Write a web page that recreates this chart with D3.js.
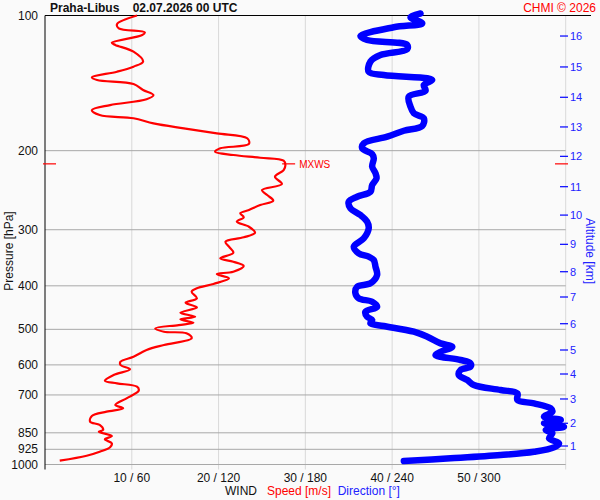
<!DOCTYPE html>
<html>
<head>
<meta charset="utf-8">
<script src="https://cdn.jsdelivr.net/npm/d3@7"></script>
<style>
  body { margin: 0; background: #fafafa; }
  svg { display: block; font-family: "Liberation Sans", Arial, sans-serif; }
</style>
</head>
<body>
<svg id="viz" width="600" height="500"></svg>
<script>
// pressure labels on the left
var pressTicks = [100, 200, 300, 400, 500, 600, 700, 850, 925, 1000];
// speed gridlines (direction = speed * 6)
var windTicks = [10, 20, 30, 40, 50];
// altitude ticks on the right, km and the pressure they sit at
var altKm = [1, 2, 3, 4, 5, 6, 7, 8, 9, 10, 11, 12, 13, 14, 15, 16];
var altP = [909.5, 809.4, 714.6, 628.7, 555.9, 485.8, 423.6, 372.1, 323.3, 278.3, 240.6, 205.9, 177.1, 152.1, 130.2, 111.1];

// wind speed profile [m/s]
var speedP = [100, 104.5, 106.8, 109.0, 110.5, 115.0, 116.3, 120.4, 126.7, 130.0, 133.4, 137.3, 139.2, 142.1, 146.5, 150.4,
  153.7, 158.3, 162.4, 166.6, 169.4, 173.9, 178.4, 183.0, 187.7, 193.2, 197.6, 201.1, 204.5, 207.4, 210.6, 215.3,
  220.9, 228.6, 237.3, 244.7, 251.1, 258.5, 264.3, 271.2, 275.8, 281.5, 287.9, 295.4, 304.6, 311.9, 319.0, 327.3,
  337.5, 347.4, 353.4, 361.3, 372.1, 376.5, 384.9, 396.3, 405.2, 412.2, 426.5, 436.2, 446.7, 459.2, 468.7, 475.0,
  483.4, 489.1, 497.5, 506.2, 510.4, 523.6, 541.9, 555.9, 575.4, 590.4, 600.4, 613.8, 632.1, 651.0, 659.7, 671.1,
  684.9, 712.2, 737.0, 749.5, 762.7, 779.8, 803.0, 816.6, 837.9, 845.3, 864.1, 878.9, 897.1, 915.7, 936.6, 956.1, 980.6];
var speedVal = [10.6, 8.3, 8.5, 11.5, 11.2, 7.7, 8.1, 10.2, 11.3, 10.2, 8.3, 5.4, 6.0, 10.2, 11.3, 12.5,
  11.7, 7.5, 5.4, 6.3, 10.2, 12.5, 16.0, 19.8, 23.3, 23.5, 20.2, 19.6, 21.7, 24.8, 27.5, 27.7,
  27.5, 26.5, 27.3, 25.0, 25.6, 26.3, 24.8, 23.5, 22.5, 22.9, 22.1, 23.5, 24.2, 22.9, 20.8, 21.2,
  21.7, 20.2, 21.7, 22.9, 21.7, 19.8, 21.2, 19.4, 17.5, 16.9, 17.5, 16.2, 17.5, 15.6, 17.3, 15.6,
  17.1, 15.4, 12.7, 13.7, 16.3, 16.9, 13.7, 11.7, 10.2, 8.7, 8.7, 9.8, 7.9, 6.9, 8.3, 10.6,
  10.8, 9.4, 8.1, 9.0, 7.1, 5.4, 5.2, 6.3, 6.7, 6.2, 7.7, 6.9, 7.7, 7.5, 6.3, 4.8, 1.7];

// wind direction profile [deg]
var dirP = [99.0, 100.9, 104.1, 106.2, 111.1, 113.4, 116.3, 118.9, 122.5, 126.7, 133.4, 135.7, 138.0, 139.2, 142.8, 147.1,
  151.6, 159.6, 165.1, 169.4, 176.3, 180.6, 186.2, 192.6, 197.6, 203.5, 208.0, 217.1, 224.6, 230.5, 238.5, 246.9,
  253.3, 259.9, 268.8, 278.3, 287.9, 297.8, 313.5, 327.3, 338.5, 344.5, 350.4, 362.6, 378.4, 394.9, 401.8, 415.6,
  426.5, 434.0, 445.3, 456.9, 468.7, 476.7, 484.8, 491.5, 506.2, 519.4, 537.3, 546.7, 560.9, 570.4, 585.1, 595.1,
  605.6, 615.9, 632.1, 648.5, 665.3, 682.6, 694.3, 718.5, 730.8, 749.5, 762.7, 782.4, 795.9, 809.4, 823.8, 837.9,
  852.2, 874.4, 897.1, 915.7, 936.6, 952.5, 968.7, 982.2];
var dirVal = [259.6, 252.7, 260.8, 241.1, 218.1, 222.7, 250.4, 250.4, 231.9, 225.0, 223.8, 234.2, 264.3, 267.7, 261.9, 263.1,
  251.5, 252.7, 255.0, 261.9, 260.8, 248.1, 236.6, 220.4, 219.3, 226.2, 227.3, 226.2, 228.5, 229.2, 226.2, 225.0,
  215.8, 210.0, 211.2, 218.1, 222.7, 223.8, 220.4, 213.5, 216.9, 223.8, 227.3, 228.5, 229.6, 225.0, 215.8, 214.6,
  216.9, 226.2, 229.6, 221.5, 222.7, 226.2, 225.0, 234.2, 255.0, 264.3, 273.5, 281.6, 273.5, 270.0, 287.3, 294.2,
  294.2, 287.3, 286.1, 292.0, 296.5, 315.0, 326.6, 326.6, 338.1, 349.6, 350.8, 345.0, 356.6, 345.0, 358.8, 346.2,
  350.8, 348.5, 355.4, 351.9, 338.1, 315.0, 280.4, 248.1];

// tropopause level and max wind
var tropoP = 214;
var mxwsP = 214, mxwsS = 27.9;

(function() {
    var svg = d3.select('svg#viz');
    var left = 45, right = 565.7, top = 15.5, bottom = 464.5;
    var red = '#ff0000', blue = '#0000ff', textBlue = '#2222ff';

    var y = d3.scaleLog().domain([100, 1000]).range([top, bottom]);
    var xs = d3.scaleLinear().domain([0, 60]).range([left, right]);
    var xd = d3.scaleLinear().domain([0, 360]).range([left, right]);

    svg.append('rect').attr('width', 600).attr('height', 500).attr('fill', '#fafafa');

    // vertical gridlines
    svg.selectAll('line.vgrid').data(windTicks.concat([60])).enter()
        .append('line')
        .attr('class', 'vgrid')
        .attr('x1', function(d) { return xs(d); })
        .attr('x2', function(d) { return xs(d); })
        .attr('y1', top)
        .attr('y2', bottom + 5)
        .attr('stroke', '#d9d9d9')
        .attr('stroke-width', 1);

    // horizontal gridlines
    svg.selectAll('line.hgrid').data(pressTicks.slice(1)).enter()
        .append('line')
        .attr('class', 'hgrid')
        .attr('x1', left)
        .attr('x2', right)
        .attr('y1', function(d) { return y(d); })
        .attr('y2', function(d) { return y(d); })
        .attr('stroke', '#a8a8a8')
        .attr('stroke-width', 1);

    // frame: top and left
    svg.append('line').attr('x1', left).attr('x2', 591).attr('y1', top).attr('y2', top)
        .attr('stroke', 'black').attr('stroke-width', 1);
    svg.append('line').attr('x1', left).attr('x2', left).attr('y1', top).attr('y2', bottom + 5)
        .attr('stroke', 'black').attr('stroke-width', 1);

    // pressure labels
    svg.selectAll('text.plab').data(pressTicks).enter()
        .append('text')
        .attr('class', 'plab')
        .attr('x', 38)
        .attr('y', function(d) { return y(d) + 4; })
        .attr('text-anchor', 'end')
        .attr('font-size', 12)
        .attr('fill', '#111')
        .text(function(d) { return d; });

    // wind labels
    svg.selectAll('text.wlab').data(windTicks).enter()
        .append('text')
        .attr('class', 'wlab')
        .attr('x', function(d) { return xs(d); })
        .attr('y', 482)
        .attr('text-anchor', 'middle')
        .attr('font-size', 12)
        .attr('fill', '#111')
        .text(function(d) { return d + ' / ' + (d * 6); });

    // altitude ticks
    svg.selectAll('line.atick').data(altP).enter()
        .append('line')
        .attr('class', 'atick')
        .attr('x1', 560).attr('x2', 568)
        .attr('y1', function(d) { return y(d); })
        .attr('y2', function(d) { return y(d); })
        .attr('stroke', blue)
        .attr('stroke-width', 1.2);
    svg.selectAll('text.alab').data(altKm).enter()
        .append('text')
        .attr('class', 'alab')
        .attr('x', 570)
        .attr('y', function(d, i) { return y(altP[i]) + 4; })
        .attr('font-size', 11)
        .attr('fill', textBlue)
        .text(function(d) { return d; });

    // tropopause markers
    svg.append('line').attr('x1', 43).attr('x2', 56).attr('y1', y(tropoP)).attr('y2', y(tropoP))
        .attr('stroke', red).attr('stroke-width', 1.2);
    svg.append('line').attr('x1', 555).attr('x2', 568).attr('y1', y(tropoP)).attr('y2', y(tropoP))
        .attr('stroke', red).attr('stroke-width', 1.2);

    // direction profile
    var dirLine = d3.line()
        .x(function(d) { return xd(d[1]); })
        .y(function(d) { return y(d[0]); })
        .curve(d3.curveCatmullRom);
    svg.append('path')
        .datum(d3.zip(dirP, dirVal))
        .attr('d', dirLine)
        .attr('fill', 'none')
        .attr('stroke', blue)
        .attr('stroke-width', 6.5)
        .attr('stroke-linejoin', 'round')
        .attr('stroke-linecap', 'round');

    // speed profile
    var speedLine = d3.line()
        .x(function(d) { return xs(d[1]); })
        .y(function(d) { return y(d[0]); })
        .curve(d3.curveCatmullRom);
    svg.append('path')
        .datum(d3.zip(speedP, speedVal))
        .attr('d', speedLine)
        .attr('fill', 'none')
        .attr('stroke', red)
        .attr('stroke-width', 2.2)
        .attr('stroke-linejoin', 'round');

    // max wind marker
    svg.append('line')
        .attr('x1', xs(mxwsS) - 5).attr('x2', xs(mxwsS) + 8)
        .attr('y1', y(mxwsP)).attr('y2', y(mxwsP))
        .attr('stroke', red).attr('stroke-width', 1.2);
    svg.append('text')
        .attr('x', xs(mxwsS) + 12)
        .attr('y', y(mxwsP) + 4)
        .attr('font-size', 10)
        .attr('fill', red)
        .text('MXWS');

    // titles
    svg.append('text')
        .attr('x', 50).attr('y', 12)
        .attr('font-size', 12).attr('font-weight', 'bold').attr('fill', '#111')
        .attr('xml:space', 'preserve')
        .text('Praha-Libus    02.07.2026 00 UTC');
    svg.append('text')
        .attr('x', 596).attr('y', 12)
        .attr('text-anchor', 'end')
        .attr('font-size', 12).attr('fill', red)
        .text('CHMI \u00a9 2026');

    svg.append('text')
        .attr('transform', 'translate(13,251) rotate(-90)')
        .attr('text-anchor', 'middle')
        .attr('font-size', 12).attr('fill', '#111')
        .text('Pressure [hPa]');
    svg.append('text')
        .attr('transform', 'translate(586,251) rotate(90)')
        .attr('text-anchor', 'middle')
        .attr('font-size', 12).attr('fill', textBlue)
        .text('Altitude [km]');

    var foot = svg.append('text')
        .attr('x', 225).attr('y', 495)
        .attr('font-size', 12)
        .attr('xml:space', 'preserve');
    foot.append('tspan').attr('fill', '#111').text('WIND   ');
    foot.append('tspan').attr('fill', red).text('Speed [m/s]  ');
    foot.append('tspan').attr('fill', textBlue).text('Direction [\u00b0]');
})();
</script>
</body>
</html>
